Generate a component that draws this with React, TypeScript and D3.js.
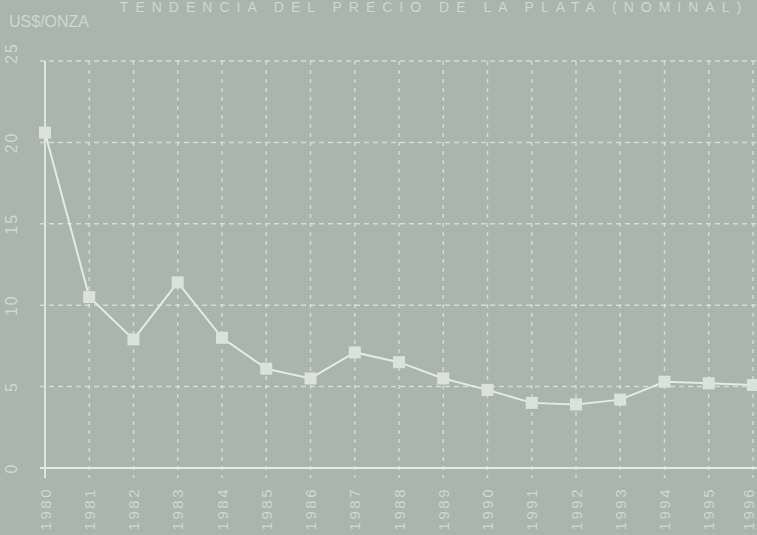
import React from 'react'
import * as d3 from 'd3'

const years = ['1980', '1981', '1982', '1983', '1984', '1985', '1986', '1987', '1988', '1989', '1990', '1991', '1992', '1993', '1994', '1995', '1996']
const prices = [20.6, 10.5, 7.9, 11.4, 8.0, 6.1, 5.5, 7.1, 6.5, 5.5, 4.8, 4.0, 3.9, 4.2, 5.3, 5.2, 5.1]
const yTicks = [0, 5, 10, 15, 20, 25]
const title = 'TENDENCIA DEL PRECIO DE LA PLATA (NOMINAL)'
const unitLabel = 'US$/ONZA'

const W = 757
const H = 535
const bg = '#aab5ad'
const ink = '#e4eae4'
const faint = '#cfd8d1'

export default function App() {
    const x = d3.scalePoint<string>().domain(years).range([45, 753])
    const y = d3.scaleLinear().domain([0, 25]).range([468, 61])

    const line = d3.line<number>()
        .x((d, i) => x(years[i]) as number)
        .y(d => y(d))

    return (
        <svg width={W} height={H} style={{position: 'absolute', left: 0, top: 0, background: bg}}
            fontFamily='"Liberation Sans", Arial, sans-serif'>
            <rect width={W} height={H} fill={bg} />
            {/* title squeezed into the strip the scan leaves at the top */}
            <text x={434} y={12} textAnchor='middle' fontSize={14} letterSpacing={7} fill={faint}>{title}</text>
            <text x={9} y={27} fontSize={16} fill={faint}>{unitLabel}</text>

            {/* horizontal grid */}
            {yTicks.filter(t => t > 0).map(t => (
                <line key={'h' + t} x1={40} x2={W} y1={y(t)} y2={y(t)}
                    stroke={ink} strokeWidth={1.5} strokeDasharray='5,4' opacity={0.75} />
            ))}
            {/* vertical grid */}
            {years.slice(1).map(yr => (
                <line key={'v' + yr} x1={x(yr)} x2={x(yr)} y1={y(25)} y2={y(0) + 10}
                    stroke={ink} strokeWidth={1.5} strokeDasharray='4,5' opacity={0.7} />
            ))}
            {/* axes */}
            <line x1={x(years[0])} x2={x(years[0])} y1={y(25)} y2={y(0) + 10} stroke={ink} strokeWidth={1.8} />
            <line x1={40} x2={W} y1={y(0)} y2={y(0)} stroke={ink} strokeWidth={1.8} />

            {/* y tick labels */}
            {yTicks.map(t => (
                <text key={'yl' + t} transform={`translate(11,${y(t) - (t === 25 ? 8 : 0)}) rotate(-90)`}
                    textAnchor='middle' dominantBaseline='central' fontSize={16} letterSpacing={2} fill={faint}>{t}</text>
            ))}
            {/* x tick labels */}
            {years.map(yr => (
                <text key={'xl' + yr} transform={`translate(${Math.min(x(yr) as number, 748)},487) rotate(-90)`}
                    textAnchor='end' dominantBaseline='central' fontSize={15} letterSpacing={2.5} fill={faint}>{yr}</text>
            ))}

            {/* series */}
            <path d={line(prices) || ''} fill='none' stroke={ink} strokeWidth={2} />
            {prices.map((p, i) => (
                <rect key={'m' + i} x={(x(years[i]) as number) - 6} y={y(p) - 6} width={12} height={12}
                    fill='#dbe2dc' />
            ))}
        </svg>
    )
}
